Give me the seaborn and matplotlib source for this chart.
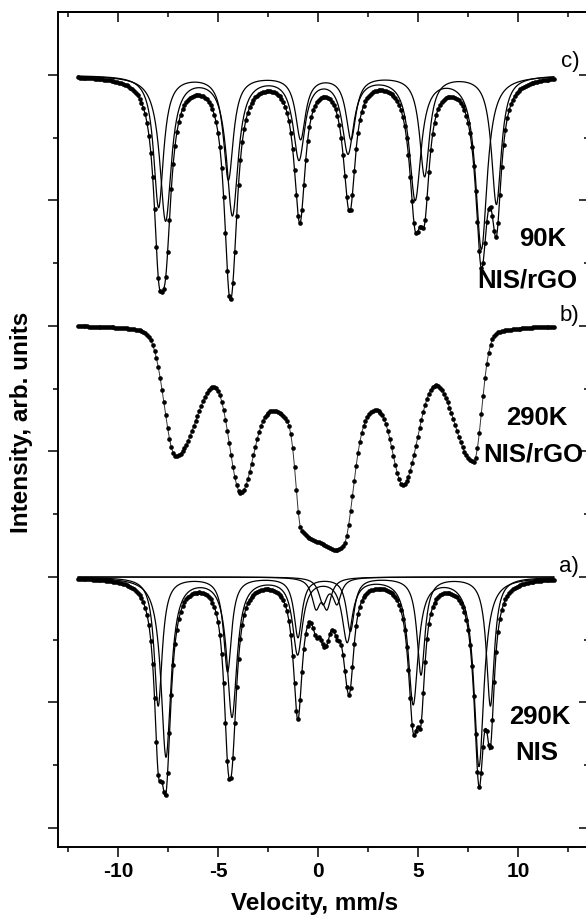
import numpy as np
import pandas as pd
import matplotlib
matplotlib.use("Agg")
import matplotlib.pyplot as plt
import seaborn as sns

# ---------------- data ----------------
vel_start, vel_stop, n_channels = -12.0, 11.8, 256     # measured velocity span (mm/s)

base_a, base_b, base_c = 4.0, 8.0, 12.0                # stacking offsets (arb. units)

# a) 290K NIS : two Lorentzian sextets + two weak central doublets
a_A_pos   = [-7.60, -4.30, -1.02, 1.46, 4.76, 8.05]
a_A_depth = [2.85, 2.20, 1.20, 1.00, 2.00, 3.00]
a_A_hwhm  = 0.30
a_B_pos   = [-7.99, -4.52, -1.00, 1.62, 5.15, 8.62]
a_B_depth = [2.05, 1.50, 0.95, 0.85, 1.55, 2.05]
a_B_hwhm  = 0.24
a_C_pos   = [-0.10, 0.45]
a_C_depth = [0.45, 0.45]
a_D_pos   = [0.25, 0.95]
a_D_depth = [0.40, 0.40]
a_CD_hwhm = 0.25

# c) 90K NIS/rGO : two Lorentzian sextets
c_A_pos   = [-7.62, -4.28, -0.95, 1.50, 4.86, 8.17]
c_A_depth = [2.30, 2.20, 1.30, 1.20, 1.95, 2.75]
c_A_hwhm  = 0.35
c_B_pos   = [-7.97, -4.48, -0.87, 1.65, 5.33, 8.92]
c_B_depth = [2.10, 1.65, 1.00, 1.00, 1.60, 2.05]
c_B_hwhm  = 0.30

# b) 290K NIS/rGO : relaxed spectrum, asymmetric broad absorption lines
b_pos     = [-7.15, -3.90, -0.85, 1.30, 4.30, 7.80, 0.30]
b_depth   = [1.87, 1.80, 1.50, 1.75, 1.64, 1.97, 1.65]
b_sig_l   = [0.53, 0.54, 0.25, 1.00, 0.55, 1.00, 3.60]
b_sig_r   = [1.07, 0.64, 1.00, 0.45, 0.71, 0.38, 3.60]

x_ticks = [-10, -5, 0, 5, 10]
x_minor = [-12.5, -7.5, -2.5, 2.5, 7.5, 12.5]
labels = {"c": ("c)", "90K", "NIS/rGO"), "b": ("b)", "290K", "NIS/rGO"), "a": ("a)", "290K", "NIS")}


# ---------------- model helpers ----------------
def lorentz(v, pos, depth, hwhm):
    out = np.zeros_like(v)
    for p, d in zip(pos, depth):
        out += d / (1.0 + ((v - p) / hwhm) ** 2)
    return out


def split_gauss(v, pos, depth, sl, sr):
    out = np.zeros_like(v)
    for p, d, a, b in zip(pos, depth, sl, sr):
        s = np.where(v < p, a, b)
        out += d * np.exp(-0.5 * ((v - p) / s) ** 2)
    return out


v_ch = np.linspace(vel_start, vel_stop, n_channels)
v_fine = np.linspace(vel_start, vel_stop, 1500)

# ---------------- figure ----------------
sns.set_theme(style="ticks")
plt.rcParams["font.family"] = ["Liberation Sans", "DejaVu Sans"]
plt.rcParams["font.weight"] = "bold"
plt.rcParams["text.color"] = "black"
plt.rcParams["axes.labelcolor"] = "black"
plt.rcParams["xtick.color"] = "black"
plt.rcParams["ytick.color"] = "black"

fig = plt.figure(figsize=(5.86, 9.17), dpi=100)
ax = fig.add_axes([58 / 586, 70 / 917, 531 / 586, 835 / 917])

dot_kw = dict(color="black", s=11, linewidth=0, legend=False, ax=ax, zorder=2)
line_kw = dict(color="black", linewidth=0.9, legend=False, ax=ax, zorder=3,
               sort=False, estimator=None)

# --- spectrum c ---
cA = lorentz(v_fine, c_A_pos, c_A_depth, c_A_hwhm)
cB = lorentz(v_fine, c_B_pos, c_B_depth, c_B_hwhm)
c_dots = base_c - (lorentz(v_ch, c_A_pos, c_A_depth, c_A_hwhm)
                   + lorentz(v_ch, c_B_pos, c_B_depth, c_B_hwhm))
sns.scatterplot(x=v_ch, y=c_dots, **dot_kw)
for comp in (cA, cB, cA + cB):
    sns.lineplot(x=v_fine, y=base_c - comp, **line_kw)

# --- spectrum a ---
aA = lorentz(v_fine, a_A_pos, a_A_depth, a_A_hwhm)
aB = lorentz(v_fine, a_B_pos, a_B_depth, a_B_hwhm)
aC = lorentz(v_fine, a_C_pos, a_C_depth, a_CD_hwhm)
aD = lorentz(v_fine, a_D_pos, a_D_depth, a_CD_hwhm)
a_dots = base_a - (lorentz(v_ch, a_A_pos, a_A_depth, a_A_hwhm)
                   + lorentz(v_ch, a_B_pos, a_B_depth, a_B_hwhm)
                   + lorentz(v_ch, a_C_pos, a_C_depth, a_CD_hwhm)
                   + lorentz(v_ch, a_D_pos, a_D_depth, a_CD_hwhm))
sns.scatterplot(x=v_ch, y=a_dots, **dot_kw)
for comp in (aA, aB, aC, aD, aA + aB + aC + aD):
    sns.lineplot(x=v_fine, y=base_a - comp, **line_kw)

# --- spectrum b ---
b_vals = base_b - split_gauss(v_ch, b_pos, b_depth, b_sig_l, b_sig_r)
sns.lineplot(x=v_ch, y=b_vals, color="#333333", linewidth=0.7, legend=False,
             ax=ax, zorder=2, sort=False, estimator=None)
sns.scatterplot(x=v_ch, y=b_vals, **dot_kw)

# ---------------- axes styling ----------------
ax.set_xlim(-13.0, 13.55)
ax.set_ylim(-0.303, 13.004)
ax.set_xticks(x_ticks)
ax.set_xticks(x_minor, minor=True)
ax.set_xticklabels([str(t) for t in x_ticks], fontsize=15, fontweight="bold")
ax.set_yticks(range(0, 13, 2))
ax.set_yticks(range(1, 13, 2), minor=True)
ax.set_yticklabels([])
ax.tick_params(axis="both", which="major", direction="out", length=7, width=1.1,
               color="black", labelcolor="black", pad=4)
ax.tick_params(axis="both", which="minor", direction="out", length=3.6, width=1.1,
               color="black")
for sp in ax.spines.values():
    sp.set_linewidth(1.4)
    sp.set_color("black")

top = ax.secondary_xaxis("top")
top.set_xticks(x_ticks)
top.set_xticks(x_minor, minor=True)
top.tick_params(which="major", direction="in", length=7, width=1.1, labeltop=False, color="black")
top.tick_params(which="minor", direction="in", length=3.6, width=1.1, color="black")
top.spines["top"].set_linewidth(1.4)
top.spines["top"].set_color("black")
right = ax.secondary_yaxis("right")
right.set_yticks(range(0, 13, 2))
right.set_yticks(range(1, 13, 2), minor=True)
right.tick_params(which="major", direction="in", length=7, width=1.1, labelright=False, color="black")
right.tick_params(which="minor", direction="in", length=3.6, width=1.1, color="black")

ax.set_xlabel("Velocity, mm/s", fontsize=17.5, fontweight="bold", color="black")
ax.xaxis.set_label_coords(0.484, -0.054)
ax.set_ylabel("Intensity, arb. units", fontsize=17.5, fontweight="bold", color="black")
ax.yaxis.set_label_coords(-0.047, 0.508)

# ---------------- annotations ----------------
txt = dict(ha="center", va="center", fontsize=18.5, fontweight="bold", color="black")
small = dict(ha="center", va="center", fontsize=16, fontweight="normal", color="black")
ax.text(12.6, 12.22, labels["c"][0], **small)
ax.text(12.55, 8.16, labels["b"][0], **small)
ax.text(12.55, 4.16, labels["a"][0], **small)
ax.text(11.25, 9.39, labels["c"][1], **txt)
ax.text(10.45, 8.72, labels["c"][2], **txt)
ax.text(10.95, 6.53, labels["b"][1], **txt)
ax.text(10.75, 5.96, labels["b"][2], **txt)
ax.text(11.10, 1.77, labels["a"][1], **txt)
ax.text(10.95, 1.20, labels["a"][2], **txt)

fig.savefig("out.png", dpi=100)
